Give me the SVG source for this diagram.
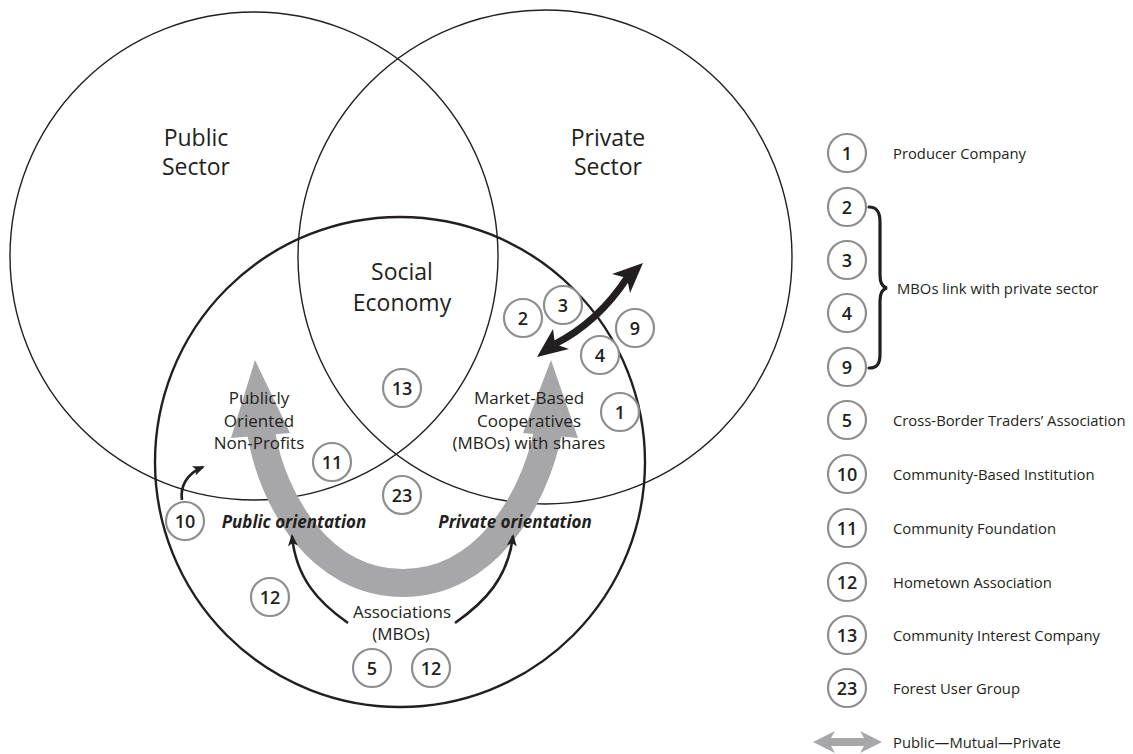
<svg xmlns="http://www.w3.org/2000/svg" width="1133" height="754" viewBox="0 0 1133 754">
<defs>
<style>
.t{font-family:"Open Sans","Liberation Sans",sans-serif;fill:#231f20}
.big{font-size:23px;text-anchor:middle}
.mid{font-size:17px;text-anchor:middle}
.ori{font-size:17px;font-weight:700;font-style:italic;text-anchor:middle}
.leg{font-size:14.8px;text-anchor:start;font-weight:400}
.b circle{fill:#fff;stroke:#8e8e8e;stroke-width:2.2}
.n{font-family:"Open Sans","Liberation Sans",sans-serif;font-size:18px;font-weight:600;text-anchor:middle;fill:#231f20}
.sec{fill:none;stroke:#231f20;stroke-width:1.4}
.soc{fill:none;stroke:#231f20;stroke-width:2.4}
.blk{fill:none;stroke:#231f20;stroke-width:2.6}
.gr{fill:#a7a7a9}
.bk{fill:#231f20}
</style>
<marker id="ah" viewBox="0 0 12 10" refX="10" refY="5" markerWidth="12" markerHeight="10" markerUnits="userSpaceOnUse" orient="auto"><path d="M0,0 L12,5 L0,10 L3,5 z" fill="#231f20"/></marker>
</defs>
<rect width="1133" height="754" fill="#fff"/>

<g id="public-sector">
<circle class="sec" cx="254" cy="256" r="244"/>
<text class="t big" x="196" y="146">Public</text>
<text class="t big" x="196" y="175">Sector</text>
</g>
<g id="private-sector">
<circle class="sec" cx="545" cy="257" r="247"/>
<text class="t big" x="608" y="146">Private</text>
<text class="t big" x="608" y="175">Sector</text>
</g>
<g id="social-economy">
<circle class="soc" cx="400" cy="462" r="245"/>
<text class="t big" x="402" y="280">Social</text>
<text class="t big" x="402" y="311">Economy</text>
</g>

<g id="connectors">
<g id="public-mutual-private-arrow">
<path d="M 261 432 C 272 500, 320 583, 403 583 C 486 583, 534 500, 548 432" fill="none" stroke="#a7a7a9" stroke-width="28"/>
<polygon class="gr" points="255,360 231,438 290,433"/>
<polygon class="gr" points="551,360 523,433 578,438"/>
</g>
<g id="private-link-arrow">
<path d="M 555 344 Q 598 322 627 278" fill="none" stroke="#231f20" stroke-width="7"/>
<polygon class="bk" points="537,357 553,329 555,344 569,349"/>
<polygon class="bk" points="643,263 612,274 627,278 630,293"/>
</g>
<path class="blk" d="M 182 500 C 180 487, 186 474, 203 467" marker-end="url(#ah)"/>
<path class="blk" d="M 348 623 C 318 602, 296 578, 292 536" marker-end="url(#ah)"/>
<path class="blk" d="M 455 623 C 485 602, 508 578, 513 536" marker-end="url(#ah)"/>
</g>

<g id="publicly-oriented">
<text class="t mid" x="259" y="404">Publicly</text>
<text class="t mid" x="259" y="427">Oriented</text>
<text class="t mid" x="259" y="449">Non-Profits</text>
</g>
<g id="market-based">
<text class="t mid" x="529" y="404">Market-Based</text>
<text class="t mid" x="529" y="427">Cooperatives</text>
<text class="t mid" x="529" y="449">(MBOs) with shares</text>
</g>
<g id="public-orientation"><text class="t ori" x="294" y="528">Public orientation</text></g>
<g id="private-orientation"><text class="t ori" x="515" y="528">Private orientation</text></g>
<g id="associations">
<text class="t mid" x="402" y="618">Associations</text>
<text class="t mid" x="401" y="640">(MBOs)</text>
</g>

<g id="n13" class="b"><circle cx="402" cy="388" r="19"/><text class="n" x="402" y="394.5">13</text></g>
<g id="n11" class="b"><circle cx="332" cy="462" r="19"/><text class="n" x="332" y="468.5">11</text></g>
<g id="n23" class="b"><circle cx="402" cy="495" r="19"/><text class="n" x="402" y="501.5">23</text></g>
<g id="n10" class="b"><circle cx="185" cy="521" r="19"/><text class="n" x="185" y="527.5">10</text></g>
<g id="n12a" class="b"><circle cx="270" cy="597" r="19"/><text class="n" x="270" y="603.5">12</text></g>
<g id="n5" class="b"><circle cx="372" cy="668" r="19"/><text class="n" x="372" y="674.5">5</text></g>
<g id="n12b" class="b"><circle cx="431" cy="668" r="19"/><text class="n" x="431" y="674.5">12</text></g>
<g id="n1" class="b"><circle cx="620" cy="412" r="19"/><text class="n" x="620" y="418.5">1</text></g>
<g id="n2" class="b"><circle cx="523" cy="318" r="19"/><text class="n" x="523" y="324.5">2</text></g>
<g id="n3" class="b"><circle cx="563" cy="305" r="19"/><text class="n" x="563" y="311.5">3</text></g>
<g id="n4" class="b"><circle cx="600" cy="355" r="19"/><text class="n" x="600" y="361.5">4</text></g>
<g id="n9" class="b"><circle cx="635" cy="328" r="19"/><text class="n" x="635" y="334.5">9</text></g>

<g id="legend">
<g id="leg1" class="b"><circle cx="847" cy="153" r="19"/><text class="n" x="847" y="159.5">1</text><text class="t leg" x="893" y="159">Producer Company</text></g>
<g id="leg2" class="b"><circle cx="847" cy="207" r="19"/><text class="n" x="847" y="213.5">2</text></g>
<g id="leg3" class="b"><circle cx="847" cy="260" r="19"/><text class="n" x="847" y="266.5">3</text></g>
<g id="leg4" class="b"><circle cx="847" cy="313" r="19"/><text class="n" x="847" y="319.5">4</text></g>
<g id="leg9" class="b"><circle cx="847" cy="367" r="19"/><text class="n" x="847" y="373.5">9</text></g>
<g id="leg-mbo">
<path d="M 869 207 C 877 207, 880 212, 880 222 L 880 275 C 880 283, 882 287, 887 288 C 882 289, 880 293, 880 301 L 880 354 C 880 364, 877 368, 869 368" fill="none" stroke="#231f20" stroke-width="3.2" stroke-linecap="round"/>
<text class="t leg" x="897" y="294">MBOs link with private sector</text>
</g>
<g id="leg5" class="b"><circle cx="847" cy="420" r="19"/><text class="n" x="847" y="426.5">5</text><text class="t leg" x="893" y="426">Cross-Border Traders’ Association</text></g>
<g id="leg10" class="b"><circle cx="847" cy="474" r="19"/><text class="n" x="847" y="480.5">10</text><text class="t leg" x="893" y="480">Community-Based Institution</text></g>
<g id="leg11" class="b"><circle cx="847" cy="528" r="19"/><text class="n" x="847" y="534.5">11</text><text class="t leg" x="893" y="534">Community Foundation</text></g>
<g id="leg12" class="b"><circle cx="847" cy="582" r="19"/><text class="n" x="847" y="588.5">12</text><text class="t leg" x="893" y="588">Hometown Association</text></g>
<g id="leg13" class="b"><circle cx="847" cy="635" r="19"/><text class="n" x="847" y="641.5">13</text><text class="t leg" x="893" y="641">Community Interest Company</text></g>
<g id="leg23" class="b"><circle cx="847" cy="688" r="19"/><text class="n" x="847" y="694.5">23</text><text class="t leg" x="893" y="694">Forest User Group</text></g>
<g id="leg-arrow">
<polygon class="gr" points="813,742 835,731 831,738 864,738 860,731 882,742 860,753 864,746 831,746 835,753"/>
<text class="t leg" x="893" y="748">Public—Mutual—Private</text>
</g>
</g>
</svg>
